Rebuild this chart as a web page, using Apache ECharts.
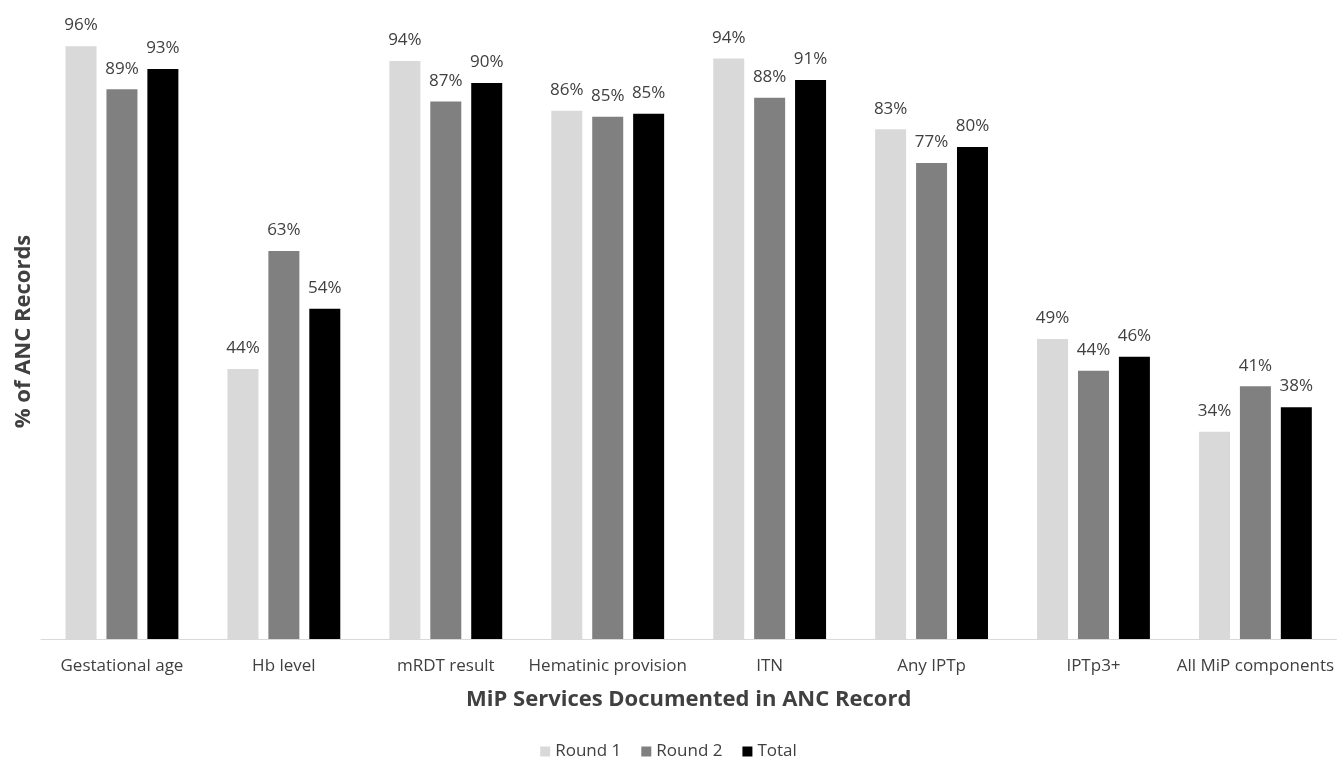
<!DOCTYPE html>
<html><head><meta charset="utf-8">
<script src="https://cdn.jsdelivr.net/npm/echarts@6/dist/echarts.min.js"></script>
<style>html,body{margin:0;padding:0;background:#fff}#c{width:1337px;height:759px}</style>
</head><body><div id="c"></div>
<script>
const categories = ["Gestational age","Hb level","mRDT result","Hematinic provision","ITN","Any IPTp","IPTp3+","All MiP components"];
const round1 = [96.4, 43.9, 94.0, 85.9, 94.4, 82.9, 48.8, 33.7];
const round2 = [89.4, 63.1, 87.4, 84.9, 88.0, 77.4, 43.6, 41.1];
const total  = [92.7, 53.7, 90.4, 85.4, 90.9, 80.0, 45.9, 37.7];
const seriesNames = ["Round 1","Round 2","Total"];
const colors = ["#d9d9d9","#808080","#000000"];

const FONT = "'Open Sans', sans-serif";
const chart = echarts.init(document.getElementById('c'));
const label = {show:true, position:'top', distance:12, color:'#404040', fontSize:17, fontFamily:FONT,
  formatter: p => Math.round(p.value) + '%'};
chart.setOption({
  animation:false,
  textStyle:{fontFamily:FONT},
  grid:{left:41, right:0, top:24, bottom:120, containLabel:false},
  legend:{top:738, left:'center', itemWidth:10, itemHeight:10, itemGap:20,
    textStyle:{fontSize:17, color:'#404040', fontFamily:FONT}, icon:'rect', data:seriesNames},
  xAxis:{type:'category', data:categories,
    axisLine:{lineStyle:{color:'#d9d9d9', width:1}}, axisTick:{show:false},
    axisLabel:{fontSize:17, color:'#404040', margin:19, interval:0, fontFamily:FONT},
    name:'MiP Services Documented in ANC Record', nameLocation:'middle', nameGap:50,
    nameTextStyle:{fontSize:22, fontWeight:'bold', color:'#404040', fontFamily:FONT}},
  yAxis:{type:'value', min:0, max:100, axisLabel:{show:false}, axisLine:{show:false},
    axisTick:{show:false}, splitLine:{show:false},
    name:'% of ANC Records', nameLocation:'middle', nameGap:6,
    nameTextStyle:{fontSize:22, fontWeight:'bold', color:'#404040', fontFamily:FONT}},
  series:[
    {name:seriesNames[0], type:'bar', data:round1, barWidth:31, barGap:'32%', itemStyle:{color:colors[0]}, label},
    {name:seriesNames[1], type:'bar', data:round2, barWidth:31, barGap:'32%', itemStyle:{color:colors[1]}, label},
    {name:seriesNames[2], type:'bar', data:total, barWidth:31, barGap:'32%', itemStyle:{color:colors[2]}, label}
  ]
});
</script></body></html>
